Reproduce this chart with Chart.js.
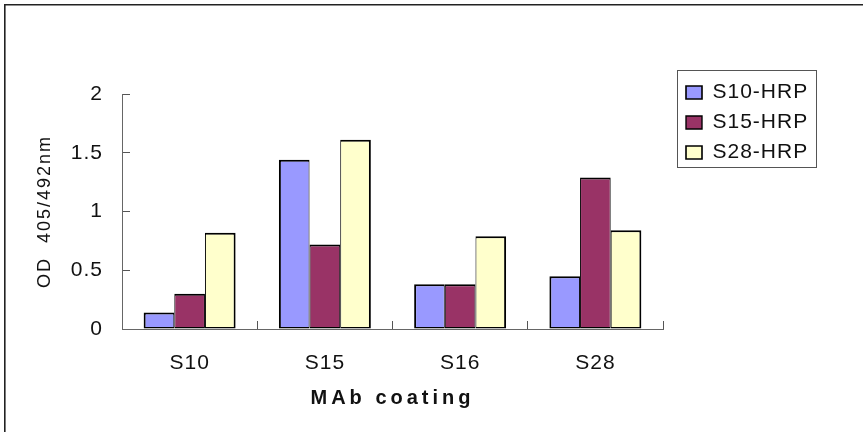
<!DOCTYPE html>
<html>
<head>
<meta charset="utf-8">
<title>MAb coating – OD 405/492nm</title>
<script src="https://cdn.jsdelivr.net/npm/chart.js@4/dist/chart.umd.min.js"></script>
<style>
  html, body { margin: 0; padding: 0; background: #ffffff; }
  #c { display: block; }
</style>
</head>
<body>
<canvas id="c" width="863" height="432"></canvas>
<script>
// Coating antibodies along the x axis
const categories = ['S10', 'S15', 'S16', 'S28'];

// Detection conjugates (one bar per conjugate in each group)
const seriesNames = ['S10-HRP', 'S15-HRP', 'S28-HRP'];
const s10Hrp = [0.14, 1.44, 0.38, 0.45];
const s15Hrp = [0.30, 0.72, 0.38, 1.29];
const s28Hrp = [0.82, 1.61, 0.79, 0.84];

// Y axis ticks and their printed labels
const yTicks = [0, 0.5, 1, 1.5, 2];
const yTickLabels = ['0', '0.5', '1', '1.5', '2'];

const FONT = "'Liberation Sans', Arial, sans-serif";
Chart.defaults.font.family = FONT;
Chart.defaults.color = '#111';

// Text tracking: a light spacing for all labels, wider for the axis titles
const textSpacing = {
  id: 'textSpacing',
  beforeLayout(chart) { chart.ctx.letterSpacing = '1px'; },
  beforeDraw(chart) {
    const ctx = chart.ctx;
    ctx.letterSpacing = '1px';
    const wrap = (scale, px) => {
      if (!scale || scale._spacedTitle) return;
      const orig = scale.drawTitle;
      scale.drawTitle = function () {
        const prev = this.ctx.letterSpacing;
        this.ctx.letterSpacing = px;
        orig.call(this);
        this.ctx.letterSpacing = prev;
      };
      scale._spacedTitle = true;
    };
    wrap(chart.scales.x, '4px');
    wrap(chart.scales.y, '2px');

    // outer figure frame (left and top edges)
    ctx.save();
    ctx.strokeStyle = '#222';
    ctx.lineWidth = 1.6;
    ctx.beginPath();
    ctx.moveTo(4.8, chart.height + 2);
    ctx.lineTo(4.8, 4.8);
    ctx.lineTo(chart.width + 2, 4.8);
    ctx.stroke();
    ctx.restore();
  }
};

// Frame around the legend
const legendFrame = {
  id: 'legendFrame',
  afterDraw(chart) {
    const lg = chart.legend;
    if (!lg || !lg.legendHitBoxes || !lg.legendHitBoxes.length) return;
    const hits = lg.legendHitBoxes;
    const last = hits[hits.length - 1];
    const top = hits[0].top - 12;
    const bottom = last.top + last.height + 4;
    const ctx = chart.ctx;
    ctx.save();
    ctx.strokeStyle = '#555';
    ctx.lineWidth = 1;
    ctx.strokeRect(Math.round(lg.left) + 0.5, Math.round(top) + 0.5,
                   Math.round(lg.width) - 1, Math.round(bottom - top));
    ctx.restore();
  }
};

const barBase = {
  borderColor: '#000',
  borderSkipped: false,
  categoryPercentage: 0.68,
  barPercentage: 1.0
};

new Chart(document.getElementById('c'), {
  type: 'bar',
  data: {
    labels: categories,
    datasets: [
      Object.assign({}, barBase, {
        label: seriesNames[0], data: s10Hrp, backgroundColor: '#9999FF',
        borderWidth: { top: 2, left: 2, right: 1, bottom: 1.5 }
      }),
      Object.assign({}, barBase, {
        label: seriesNames[1], data: s15Hrp, backgroundColor: '#993366',
        borderWidth: { top: 2, left: 1, right: 1, bottom: 1.5 }
      }),
      Object.assign({}, barBase, {
        label: seriesNames[2], data: s28Hrp, backgroundColor: '#FFFFCC',
        borderWidth: { top: 2, left: 1, right: 2, bottom: 1.5 }
      })
    ]
  },
  options: {
    responsive: false,
    animation: false,
    events: [],
    layout: { padding: { top: 73, left: 30, right: 46, bottom: 0 } },
    plugins: {
      tooltip: { enabled: false },
      title: { display: false },
      legend: {
        position: 'right',
        align: 'start',
        maxWidth: 140,
        labels: {
          font: { size: 21 },
          color: '#111',
          boxWidth: 16,
          boxHeight: 13,
          padding: 9
        }
      }
    },
    scales: {
      x: {
        type: 'category',
        position: 'bottom',
        offset: true,
        grid: {
          display: true, offset: true, drawOnChartArea: false,
          drawTicks: true, tickLength: -8, color: '#555', lineWidth: 1
        },
        border: { display: true, color: '#666', width: 1 },
        ticks: { font: { size: 21 }, color: '#111', padding: 30, maxRotation: 0 },
        title: {
          display: true, text: 'MAb coating', color: '#111',
          font: { size: 20, weight: 'bold' }, padding: { top: 0, bottom: 22 }
        },
        afterFit(s) { s.height = 103; }
      },
      y: {
        type: 'linear',
        position: 'left',
        min: 0,
        max: 2,
        afterBuildTicks(axis) { axis.ticks = yTicks.map(v => ({ value: v })); },
        grid: {
          display: true, drawOnChartArea: false,
          drawTicks: true, tickLength: -8, color: '#555', lineWidth: 1
        },
        border: { display: true, color: '#666', width: 1 },
        ticks: {
          font: { size: 21 }, color: '#111', padding: 27,
          callback: (v) => yTickLabels[yTicks.indexOf(v)]
        },
        title: {
          display: true, text: 'OD  405/492nm', color: '#111',
          font: { size: 18 }, padding: { top: 4, bottom: 0 }
        },
        afterFit(s) { s.width = 92; }
      },
      // empty spacer scales that keep the plot clear of the legend column
      xTop: {
        type: 'linear', position: 'top', display: true,
        grid: { display: false }, border: { display: false }, ticks: { display: false },
        afterFit(s) { s.height = 21; }
      },
      yR: {
        type: 'linear', position: 'right', display: true,
        grid: { display: false }, border: { display: false }, ticks: { display: false },
        afterFit(s) { s.width = 14; }
      }
    }
  },
  plugins: [textSpacing, legendFrame]
});
</script>
</body>
</html>
